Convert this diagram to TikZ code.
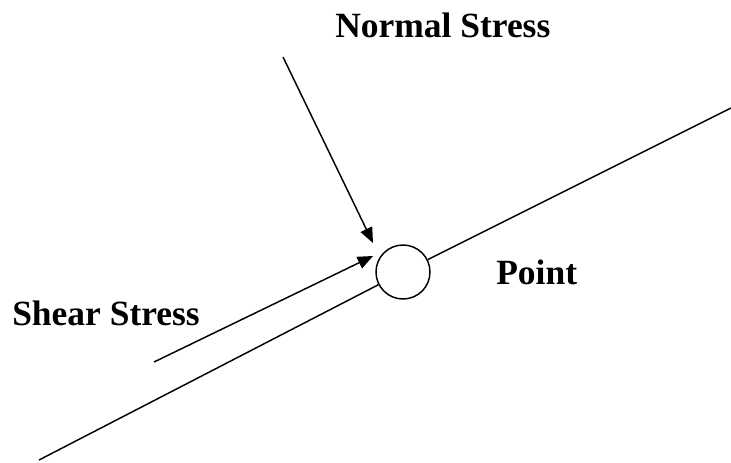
\documentclass[tikz,border=0pt]{standalone}
\usepackage{fontspec}
\setmainfont{Liberation Serif}
\usetikzlibrary{arrows.meta,positioning}

\begin{document}
\begin{tikzpicture}[
    x=0.75pt, y=-0.75pt,
    font=\fontsize{26.6}{30}\selectfont\bfseries,
    lbl/.style={inner sep=0pt, anchor=base west},
    pointmark/.style={circle, draw, fill=white, line width=1.1pt,
                      minimum size=40.5pt, inner sep=0pt},
    surface/.style={line width=1.1pt},
    force/.style={-{Triangle[length=11.5pt,width=9.5pt]}, line width=1.1pt},
  ]
  \useasboundingbox (0,0) rectangle (731,462);

  \coordinate (lowend) at (39,460);
  \coordinate (highend) at (731,108);
  \node[pointmark] (pt) at (403,272) {};

  \coordinate (normaltail) at (283,57);
  \coordinate (normaltip) at (373,243);
  \coordinate (sheartail) at (154,362);
  \coordinate (sheartip) at (373,256);

  \node[lbl] (normallbl) at (335,37) {Normal Stress};
  \node[lbl] (shearlbl) at (12,325) {Shear Stress};
  \node[lbl] (pointlbl) at (496,284) {Point};

  % plane through the point
  \draw[surface] (lowend) -- (pt) -- (highend);

  % stresses
  \draw[force] (normaltail) -- (normaltip);
  \draw[force] (sheartail) -- (sheartip);
\end{tikzpicture}
\end{document}
